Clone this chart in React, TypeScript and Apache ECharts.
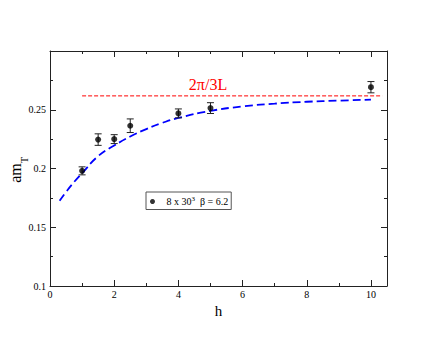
import React, { useEffect, useRef } from "react";
import * as echarts from "echarts";

// Measured points: a m_T versus h, with error bars
const hValues = [1, 1.5, 2, 2.5, 4, 5, 10];
const amTValues = [0.198, 0.2246, 0.225, 0.2364, 0.2469, 0.2514, 0.2692];
const amTErrors = [0.0034, 0.0049, 0.0038, 0.0058, 0.0038, 0.0046, 0.0048];

// Blue dashed fit curve
const fitH = [0.3, 0.5, 0.75, 1, 1.5, 2, 2.5, 3, 3.5, 4, 5, 6, 7, 8, 9, 10];
const fitAmT = [
  0.1725, 0.18, 0.1885, 0.196, 0.2105, 0.2195, 0.2272, 0.2335, 0.2388, 0.243,
  0.249, 0.2528, 0.2552, 0.2568, 0.2578, 0.2586,
];

// Red dashed limit 2π/3L
const limitH = [1, 10.35];
const limitAmT = [0.2618, 0.2618];

// Axis ticks
const xMajorTicks = [0, 2, 4, 6, 8, 10];
const xMinorTicks = [1, 3, 5, 7, 9];
const yMajorTicks = [0.1, 0.15, 0.2, 0.25, 0.3];
const yLabelTicks = [0.1, 0.15, 0.2, 0.25];
const yMinorTicks = [0.125, 0.175, 0.225, 0.275];

const seriesName = "8 x 30³  β = 6.2";
const limitLabel = "2π/3L";
const xTitle = "h";
const yTitleMain = "am";
const yTitleSub = "T";

const FONT = "Liberation Serif";
const AXIS_COLOR = "#222";

function xAxisDef(position: string, ticks: number[], len: number, line: boolean, labels: boolean, extra: any = {}) {
  return {
    type: "value",
    position,
    min: 0,
    max: 10.5,
    splitLine: { show: false },
    axisLine: { show: line, onZero: false, lineStyle: { color: AXIS_COLOR, width: 1 } },
    axisTick: { show: true, inside: true, length: len, customValues: ticks, lineStyle: { color: AXIS_COLOR, width: 1 } },
    axisLabel: labels
      ? { show: true, customValues: xMajorTicks, margin: 3, color: "#000", fontSize: 10, fontFamily: FONT }
      : { show: false },
    ...extra,
  };
}

function yAxisDef(position: string, ticks: number[], len: number, line: boolean, labels: boolean) {
  return {
    type: "value",
    position,
    min: 0.1,
    max: 0.3,
    splitLine: { show: false },
    axisLine: { show: line, onZero: false, lineStyle: { color: AXIS_COLOR, width: 1 } },
    axisTick: { show: true, inside: true, length: len, customValues: ticks, lineStyle: { color: AXIS_COLOR, width: 1 } },
    axisLabel: labels
      ? { show: true, customValues: yLabelTicks, margin: 4, color: "#000", fontSize: 10, fontFamily: FONT }
      : { show: false },
  };
}

export default function App() {
  const ref = useRef<HTMLDivElement>(null);

  useEffect(() => {
    if (!ref.current) return;
    const chart = echarts.init(ref.current, undefined, { renderer: "svg" });

    const points = hValues.map((h, i) => [h, amTValues[i]]);
    const errRows = hValues.map((h, i) => [h, amTValues[i], amTErrors[i]]);
    const fit = fitH.map((h, i) => [h, fitAmT[i]]);
    const limit = limitH.map((h, i) => [h, limitAmT[i]]);

    const option: any = {
      animation: false,
      backgroundColor: "#fff",
      textStyle: { fontFamily: FONT },
      grid: { left: 50, right: 49, top: 51, bottom: 51, containLabel: false },
      xAxis: [
        xAxisDef("bottom", xMajorTicks, 6, true, true, {
          name: xTitle,
          nameLocation: "middle",
          nameGap: 10,
          nameTextStyle: { fontSize: 15, fontFamily: FONT, color: "#000" },
        }),
        xAxisDef("bottom", xMinorTicks, 3, false, false),
        xAxisDef("top", xMajorTicks, 6, true, false),
        xAxisDef("top", xMinorTicks, 3, false, false),
      ],
      yAxis: [
        yAxisDef("left", yMajorTicks, 6, true, true),
        yAxisDef("left", yMinorTicks, 3, false, false),
        yAxisDef("right", yMajorTicks, 6, true, false),
        yAxisDef("right", yMinorTicks, 3, false, false),
      ],
      legend: {
        show: true,
        data: [{ name: seriesName, icon: "circle" }],
        left: 146,
        top: 192,
        orient: "horizontal",
        padding: [3, 3, 3, 4],
        itemWidth: 14,
        itemHeight: 5,
        itemGap: 0,
        borderColor: "#555",
        borderWidth: 1,
        backgroundColor: "#fff",
        selectedMode: false,
        formatter: () => "{n|8 x 30}{sup|3}{n|  β = 6.2}",
        textStyle: {
          color: "#000",
          fontFamily: FONT,
          fontSize: 10,
          padding: [0, 0, 0, 2],
          rich: {
            n: { fontSize: 10, fontFamily: FONT, color: "#000", lineHeight: 13, verticalAlign: "middle" },
            sup: { fontSize: 7, fontFamily: FONT, color: "#000", lineHeight: 13, verticalAlign: "top" },
          },
        },
      },
      graphic: [
        {
          type: "text",
          x: 208,
          y: 84,
          silent: true,
          style: { text: limitLabel, fill: "#ff0000", fontSize: 16, fontFamily: FONT, align: "center", verticalAlign: "middle" },
        },
        {
          type: "text",
          x: 15.6,
          y: 173,
          rotation: Math.PI / 2,
          silent: true,
          style: { text: yTitleMain, fill: "#000", fontSize: 16, fontFamily: FONT, align: "center", verticalAlign: "middle" },
        },
        {
          type: "text",
          x: 24,
          y: 160,
          rotation: Math.PI / 2,
          silent: true,
          style: { text: yTitleSub, fill: "#000", fontSize: 10, fontFamily: FONT, align: "center", verticalAlign: "middle" },
        },
      ],
      series: [
        {
          type: "line",
          name: "limit",
          data: limit,
          symbol: "none",
          silent: true,
          lineStyle: { color: "#ff0000", width: 1, type: [4, 2] },
          z: 2,
        },
        {
          type: "line",
          name: "fit",
          data: fit,
          smooth: true,
          symbol: "none",
          silent: true,
          lineStyle: { color: "#0000ff", width: 1.8, type: [8, 4] },
          z: 2,
        },
        {
          type: "custom",
          name: "errors",
          data: errRows,
          encode: { x: 0, y: 1 },
          silent: true,
          z: 3,
          renderItem: (params: any, api: any) => {
            const x = api.value(0);
            const y = api.value(1);
            const e = api.value(2);
            const hi = api.coord([x, y + e]);
            const lo = api.coord([x, y - e]);
            const w = 3.5;
            const style = { stroke: "#222", lineWidth: 1 };
            return {
              type: "group",
              children: [
                { type: "line", shape: { x1: hi[0], y1: hi[1], x2: lo[0], y2: lo[1] }, style },
                { type: "line", shape: { x1: hi[0] - w, y1: hi[1], x2: hi[0] + w, y2: hi[1] }, style },
                { type: "line", shape: { x1: lo[0] - w, y1: lo[1], x2: lo[0] + w, y2: lo[1] }, style },
              ],
            };
          },
        },
        {
          type: "scatter",
          name: seriesName,
          data: points,
          symbol: "circle",
          symbolSize: 6,
          itemStyle: { color: "#000" },
          z: 4,
        },
      ],
    };

    chart.setOption(option);
    return () => chart.dispose();
  }, []);

  return (
    <div
      ref={ref}
      style={{ position: "fixed", left: 0, top: 0, width: 436, height: 337, background: "#fff" }}
    />
  );
}
